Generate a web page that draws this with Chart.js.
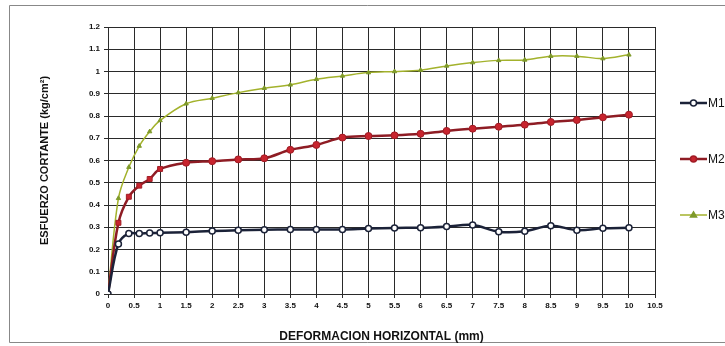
<!DOCTYPE html>
<html>
<head>
<meta charset="utf-8">
<script src="https://cdn.jsdelivr.net/npm/chart.js@4/dist/chart.umd.min.js"></script>
<style>
html,body{margin:0;padding:0;background:#fff;}
#wrap{width:725px;height:346px;position:relative;}
</style>
</head>
<body>
<div id="wrap"><canvas id="c" width="725" height="346"></canvas></div>
<script>
const deformacion = [0, 0.2, 0.4, 0.6, 0.8, 1, 1.5, 2, 2.5, 3, 3.5, 4, 4.5, 5, 5.5, 6, 6.5, 7, 7.5, 8, 8.5, 9, 9.5, 10];
const m1 = [0, 0.225, 0.272, 0.272, 0.274, 0.275, 0.278, 0.283, 0.286, 0.289, 0.29, 0.29, 0.29, 0.294, 0.297, 0.298, 0.303, 0.31, 0.28, 0.282, 0.307, 0.287, 0.295, 0.298];
const m2 = [0, 0.32, 0.437, 0.487, 0.517, 0.562, 0.59, 0.597, 0.605, 0.61, 0.648, 0.67, 0.703, 0.71, 0.713, 0.72, 0.733, 0.743, 0.752, 0.761, 0.773, 0.782, 0.794, 0.806];
const m3 = [0, 0.43, 0.57, 0.665, 0.73, 0.78, 0.855, 0.88, 0.905, 0.925, 0.94, 0.965, 0.98, 0.995, 1.0, 1.006, 1.025, 1.04, 1.05, 1.052, 1.069, 1.069, 1.058, 1.075];
const seriesNames = ['M1', 'M2', 'M3'];
const xTitle = 'DEFORMACION HORIZONTAL (mm)';
const yTitle = 'ESFUERZO CORTANTE (kg/cm²)';

const pts = arr => deformacion.map((x, i) => ({x: x, y: arr[i]}));
const tickFont = {family: "'Liberation Sans Narrow','Liberation Sans',Arial,sans-serif", size: 8, weight: 'bold'};

const frame = {
  id: 'frame',
  beforeDraw(chart) {
    const ctx = chart.ctx;
    ctx.save();
    ctx.fillStyle = '#fff';
    ctx.fillRect(0, 0, chart.width, chart.height);
    ctx.strokeStyle = '#888';
    ctx.lineWidth = 1;
    ctx.beginPath();
    ctx.moveTo(725, 5.5); ctx.lineTo(9.5, 5.5); ctx.lineTo(9.5, 342.5); ctx.lineTo(725, 342.5);
    ctx.stroke();
    ctx.restore();
  }
};

const legendPlugin = {
  id: 'customLegend',
  afterDraw(chart) {
    const ctx = chart.ctx;
    ctx.save();
    chart.data.datasets.forEach((ds, i) => {
      const y = 103 + i * 56;
      ctx.strokeStyle = ds.borderColor;
      ctx.lineWidth = ds.borderWidth;
      ctx.beginPath(); ctx.moveTo(680, y); ctx.lineTo(707, y); ctx.stroke();
      const style = i === 2 ? 'triangle' : 'circle';
      ctx.fillStyle = ds.pointBackgroundColor;
      ctx.strokeStyle = ds.pointBorderColor;
      ctx.lineWidth = 1.5;
      ctx.beginPath();
      if (style === 'circle') { ctx.arc(693.5, y, 3, 0, Math.PI * 2); }
      else { ctx.moveTo(693.5, y - 3); ctx.lineTo(696.5, y + 2); ctx.lineTo(690.5, y + 2); ctx.closePath(); }
      ctx.fill(); ctx.stroke();
      ctx.fillStyle = '#111';
      ctx.font = "12px 'Liberation Sans', Arial, sans-serif";
      ctx.textBaseline = 'middle';
      ctx.fillText(ds.label, 708, y + 1);
    });
    ctx.restore();
  }
};

new Chart(document.getElementById('c'), {
  type: 'line',
  data: {
    datasets: [
      {label: seriesNames[0], data: pts(m1), borderColor: '#1b2238', borderWidth: 2.5,
       pointBackgroundColor: '#ffffff', pointBorderColor: '#1b2238', pointBorderWidth: 1.5,
       pointRadius: 3, pointStyle: 'circle', tension: 0.35, order: 1},
      {label: seriesNames[1], data: pts(m2), borderColor: '#8e1c24', borderWidth: 2.5,
       pointBackgroundColor: '#c8242e', pointBorderColor: '#a01c25', pointBorderWidth: 1,
       pointRadius: 3.5, pointStyle: deformacion.map((x, i) => i < 6 ? 'rect' : 'circle'), tension: 0.35, order: 2},
      {label: seriesNames[2], data: pts(m3), borderColor: '#a3b22c', borderWidth: 1.5,
       pointBackgroundColor: '#7f9a2a', pointBorderColor: '#7f9a2a', pointBorderWidth: 1,
       pointRadius: 2.5, pointStyle: 'triangle', tension: 0.35, order: 3}
    ]
  },
  options: {
    responsive: false,
    animation: false,
    devicePixelRatio: 1,
    layout: {padding: {left: 38, right: 70, top: 27, bottom: 2}},
    plugins: {legend: {display: false}, tooltip: {enabled: false}},
    scales: {
      x: {
        type: 'linear', min: 0, max: 10.5,
        ticks: {stepSize: 0.5, color: '#111', font: tickFont, padding: 3, maxRotation: 0, autoSkip: false,
                callback: v => String(v)},
        grid: {color: '#2a2a2a', lineWidth: 1, tickLength: 4, drawTicks: true},
        border: {color: '#2a2a2a', width: 1},
        title: {display: true, text: xTitle, color: '#111',
                font: {family: "'Liberation Sans', Arial, sans-serif", size: 12, weight: 'bold'},
                padding: {top: 0, bottom: 0}},
        afterFit(s) { s.height = 50; }
      },
      y: {
        type: 'linear', min: 0, max: 1.2,
        ticks: {stepSize: 0.1, color: '#111', font: tickFont, padding: 4,
                callback: v => String(Math.round(v * 10) / 10)},
        grid: {color: '#2a2a2a', lineWidth: 1, tickLength: 4, drawTicks: true},
        border: {color: '#2a2a2a', width: 1},
        title: {display: true, text: yTitle, color: '#111',
                font: {family: "'Liberation Sans', Arial, sans-serif", size: 11, weight: 'bold'},
                padding: {top: 0, bottom: 0}},
        afterFit(s) { s.width = 70; }
      }
    }
  },
  plugins: [frame, legendPlugin]
});
</script>
</body>
</html>
